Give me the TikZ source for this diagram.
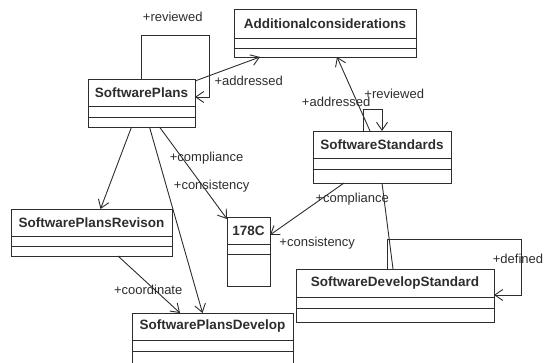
\documentclass[tikz,border=0pt]{standalone}
\usepackage{fontspec}
\setmainfont{Liberation Sans}
\usepackage{tikz}
\usetikzlibrary{arrows.meta,positioning,calc}
\definecolor{umlline}{RGB}{45,45,45}
\tikzstyle{umlhead} = [
    rectangle,
    draw=umlline,
    line width=0.9pt,
    outer sep=0pt,
    inner sep=0pt,
    text=umlline,
    font=\fontsize{13.5}{16}\selectfont\bfseries,
    anchor=north west
]
\tikzstyle{umlpart} = [
    rectangle,
    draw=umlline,
    line width=0.9pt,
    outer sep=0pt,
    inner sep=0pt
]
\tikzstyle{assoc} = [
    line width=0.9pt,
    draw=umlline,
    -{Straight Barb[length=8pt,width=11pt]}
]
\tikzstyle{role} = [
    text=umlline,
    inner sep=1pt,
    font=\fontsize{13}{15}\selectfont
]

\begin{document}
\begin{tikzpicture}[x=1pt, y=-1pt]
    \clip (0,0) rectangle (556,363);
    % classes
    \node[umlhead, minimum width=182pt, minimum height=29pt] (additional) at (234,9) {Additionalconsiderations};
    \node[umlpart, minimum width=182pt, minimum height=10pt, below=0pt of additional] (additionalattr) {};
    \node[umlpart, minimum width=182pt, minimum height=9pt, below=0pt of additionalattr] (additionalops) {};

    \node[umlhead, minimum width=107pt, minimum height=27pt] (plans) at (88,79) {SoftwarePlans};
    \node[umlpart, minimum width=107pt, minimum height=11pt, below=0pt of plans] (plansattr) {};
    \node[umlpart, minimum width=107pt, minimum height=10pt, below=0pt of plansattr] (plansops) {};

    \node[umlhead, minimum width=138pt, minimum height=27pt] (standards) at (313,131) {SoftwareStandards};
    \node[umlpart, minimum width=138pt, minimum height=11pt, below=0pt of standards] (standardsattr) {};
    \node[umlpart, minimum width=138pt, minimum height=14pt, below=0pt of standardsattr] (standardsops) {};

    \node[umlhead, minimum width=161pt, minimum height=27pt] (revison) at (11,209) {SoftwarePlansRevison};
    \node[umlpart, minimum width=161pt, minimum height=10pt, below=0pt of revison] (revisonattr) {};
    \node[umlpart, minimum width=161pt, minimum height=10pt, below=0pt of revisonattr] (revisonops) {};

    \node[umlhead, minimum width=43pt, minimum height=27pt] (c178) at (227,217) {178C};
    \node[umlpart, minimum width=43pt, minimum height=10pt, below=0pt of c178] (c178attr) {};
    \node[umlpart, minimum width=43pt, minimum height=32pt, below=0pt of c178attr] (c178ops) {};

    \node[umlhead, minimum width=198pt, minimum height=28pt] (devstd) at (296,269) {SoftwareDevelopStandard};
    \node[umlpart, minimum width=198pt, minimum height=11pt, below=0pt of devstd] (devstdattr) {};
    \node[umlpart, minimum width=198pt, minimum height=14pt, below=0pt of devstdattr] (devstdops) {};

    \node[umlhead, minimum width=161pt, minimum height=27pt] (plansdev) at (132,313) {SoftwarePlansDevelop};
    \node[umlpart, minimum width=161pt, minimum height=11pt, below=0pt of plansdev] (plansdevattr) {};
    \node[umlpart, minimum width=161pt, minimum height=14pt, below=0pt of plansdevattr] (plansdevops) {};

    % associations
    \draw[assoc] (plans.north) -- ++(0,-44)
        node[role, anchor=south west, yshift=12pt] {+reviewed}
        -| ($(plans.east)+(14,4.5)$) -- ($(plans.east)+(0,4.5)$);
    \draw[assoc] ($(plans.north east)+(0,2)$) -- ($(additionalops.south west)+(26,0)$)
        node[role, pos=0.28, anchor=north west] {+addressed};
    \draw[assoc] ($(standards.north)+(-12,0)$) -- ($(additionalops.south west)+(103,0)$)
        node[role, pos=0.39, xshift=-21pt] {+addressed};
    \draw[assoc] ($(standards.north)+(-19,0)$) -- ++(0,-22)
        node[role, anchor=south west, yshift=9pt] {+reviewed}
        -| (standards.north);
    \draw[assoc] ($(standardsops.south west)+(31,0)$) -- ($(c178.east)+(0,4.5)$)
        node[role, pos=0.31, anchor=west, xshift=-7pt] {+compliance}
        node[role, pos=1, anchor=west, xshift=8pt, yshift=-8pt] {+consistency};
    \draw[assoc, -] (standardsops.south) -- ($(devstd.north)+(-2,0)$);
    \draw[assoc] ($(devstd.north)+(-8,0)$) -- ++(0,-30) -| ($(devstd.east)+(27,12)$)
        node[role, pos=0.68, xshift=-3pt] {+defined}
        -- ($(devstd.east)+(0,12)$);
    \draw[assoc] ($(plansops.south)+(-10,0)$) -- ($(revison.north)+(9,0)$);
    \draw[assoc] ($(plansops.south)+(8,0)$) -- ($(plansdev.north)+(-10,0)$)
        node[role, pos=0.32, anchor=west, xshift=6pt] {+consistency};
    \draw[assoc] ($(plansops.south)+(18,0)$) -- ($(c178.north west)+(0,2)$)
        node[role, pos=0.34, anchor=west, xshift=-14pt] {+compliance};
    \draw[assoc] ($(revisonops.south west)+(107,0)$) -- ($(plansdev.north west)+(48,0)$)
        node[role, pos=0.6, xshift=-7pt] {+coordinate};
\end{tikzpicture}
\end{document}
